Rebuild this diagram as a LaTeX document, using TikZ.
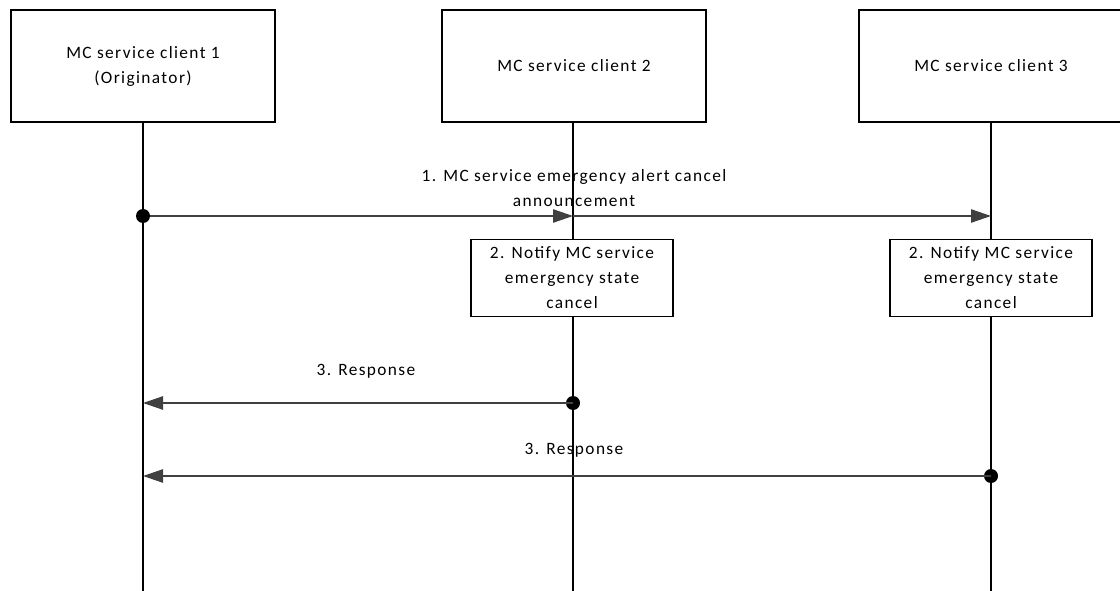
\documentclass[tikz,border=0pt]{standalone}
\usepackage{fontspec}
\setmainfont{Carlito}[LetterSpace=8]
\usetikzlibrary{arrows.meta,positioning,calc}

\begin{document}
\begin{tikzpicture}[x=0.75pt, y=-0.75pt, font=\fontsize{13}{18.75}\selectfont,
  entity/.style={draw, line width=0.8pt, minimum width=198pt, minimum height=84pt, align=center, inner sep=0pt},
  action/.style={draw, line width=0.8pt, minimum width=151.5pt, minimum height=57.75pt, align=center, inner sep=0pt},
  msg/.style={draw=black!75, line width=1.1pt, -{Triangle[length=15pt, width=10pt]}},
  dot/.style={circle, fill=black, inner sep=0pt, minimum size=10.5pt}]
  \useasboundingbox (0,0) rectangle (1120,591);
  \clip (0,0) rectangle (1120,591);
  % participants
  \node[entity] (c1) at (143,66) {MC service client 1\\(Originator)};
  \node[entity] (c2) at (574,66) {MC service client 2};
  \node[entity] (c3) at (991,66) {MC service client 3};
  \coordinate (e1) at (143,591);
  \coordinate (e2) at (573,591);
  \coordinate (e3) at (991,591);
  \draw[line width=0.8pt] (c1.south) -- (e1);
  \draw[line width=0.8pt] (c2.south -| e2) -- (e2);
  \draw[line width=0.8pt] (c3.south) -- (e3);
  % local actions
  \node[action, fill=white] (n2) at (572,278) {2. Notify MC service\\emergency state\\cancel};
  \node[action, fill=white] (n3) at (991,278) {2. Notify MC service\\emergency state\\cancel};
  % step 1
  \coordinate (a2) at (573,216);
  \coordinate (a3) at (991,216);
  \draw[msg] (143,216) coordinate (a1) -- (a2);
  \draw[msg] (a2) -- (a3);
  \node[dot] (d1) at (a1) {};
  \node[align=center, anchor=south, inner sep=0pt] (l1) at (574,207) {1. MC service emergency alert cancel\\announcement};
  % step 3
  \coordinate (r1) at (143,403);
  \coordinate (r2) at (143,476);
  \node[dot] (d2) at (573,403) {};
  \node[dot] (d3) at (991,476) {};
  \draw[msg] (d2.center) -- (r1);
  \draw[msg] (d3.center) -- (r2);
  \node (l2) at (366,371) {3. Response};
  \node (l3) at (574,450) {3. Response};
\end{tikzpicture}
\end{document}
